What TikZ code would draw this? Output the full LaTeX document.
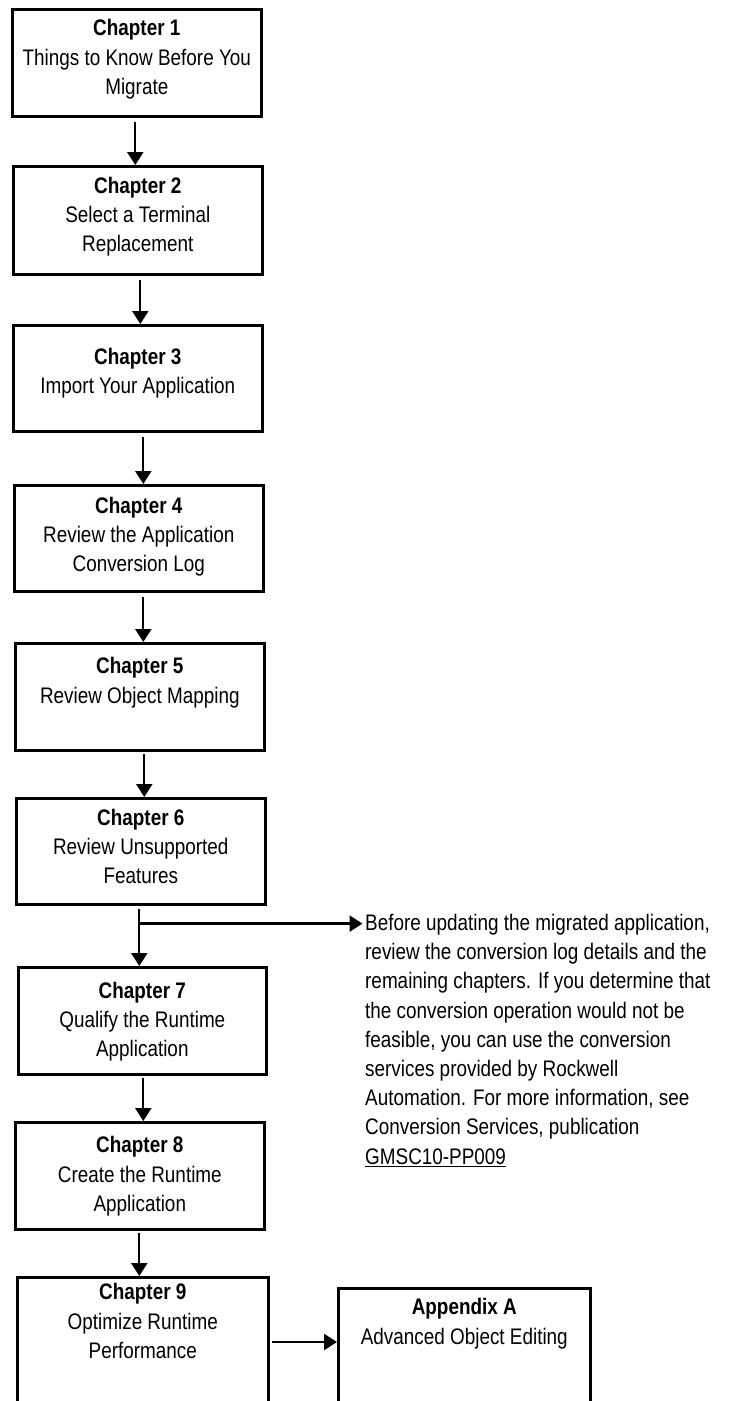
\documentclass[tikz,border=0pt]{standalone}
\usepackage{fontspec}
\setmainfont[FakeStretch=0.84]{Liberation Sans}
\usetikzlibrary{arrows.meta,calc}
\begin{document}
\begin{tikzpicture}[x=1pt,y=-1pt,
  box/.style={draw, line width=2.6pt, rectangle, inner sep=0pt, anchor=north west},
  txt/.style={align=center, inner sep=0pt, anchor=north, font=\fontsize{22.5}{29.3}\selectfont},
  note/.style={align=left, inner sep=0pt, anchor=north west, font=\fontsize{22.5}{29.2}\selectfont},
  arr/.style={line width=2.3pt, -{Triangle[width=16pt,length=13pt]}}
]
\fill[white] (0,0) rectangle (729,1401);
\useasboundingbox (0,0) rectangle (729,1401);
\clip (0,0) rectangle (729,1401);

% boxes
\node[box, minimum width=249pt, minimum height=107pt] (c1) at (11,8) {};
\node[box, minimum width=249pt, minimum height=108pt] (c2) at (12,165) {};
\node[box, minimum width=249pt, minimum height=106pt] (c3) at (12,324) {};
\node[box, minimum width=249pt, minimum height=106pt] (c4) at (13,484) {};
\node[box, minimum width=249pt, minimum height=107pt] (c5) at (14,642) {};
\node[box, minimum width=249pt, minimum height=106pt] (c6) at (15,797) {};
\node[box, minimum width=248pt, minimum height=107pt] (c7) at (17,966) {};
\node[box, minimum width=249pt, minimum height=107pt] (c8) at (14,1121) {};
\node[box, minimum width=251pt, minimum height=140pt] (c9) at (16,1276) {};
\node[box, minimum width=252pt, minimum height=130pt] (cA) at (337,1287) {};

% texts
\node[txt] (t1) at ($(c1.north)+(0,11.3)$) {\textbf{Chapter 1}\\Things to Know Before You\\Migrate};
\node[txt] (t2) at ($(c2.north)+(0,11.6)$) {\textbf{Chapter 2}\\Select a Terminal\\Replacement};
\node[txt] (t3) at ($(c3.north)+(0,23.6)$) {\textbf{Chapter 3}\\Import Your Application};
\node[txt] (t4) at ($(c4.north)+(0,12.6)$) {\textbf{Chapter 4}\\Review the Application\\Conversion Log};
\node[txt] (t5) at ($(c5.north)+(0,15.2)$) {\textbf{Chapter 5}\\Review Object Mapping};
\node[txt] (t6) at ($(c6.north)+(0,11.6)$) {\textbf{Chapter 6}\\Review Unsupported\\Features};
\node[txt] (t7) at ($(c7.north)+(0,15.6)$) {\textbf{Chapter 7}\\Qualify the Runtime\\Application};
\node[txt] (t8) at ($(c8.north)+(0,15.2)$) {\textbf{Chapter 8}\\Create the Runtime\\Application};
\node[txt] (t9) at ($(c9.north)+(0,7.4)$) {\textbf{Chapter 9}\\Optimize Runtime\\Performance};
\node[txt] (tA) at ($(cA.north)+(0,11.4)$) {\textbf{Appendix A}\\Advanced Object Editing};

\node[note] (note) at (365,914) {Before updating the migrated application,\\review the conversion log details and the\\remaining chapters. If you determine that\\the conversion operation would not be\\feasible, you can use the conversion\\services provided by Rockwell\\Automation. For more information, see\\Conversion Services, publication\\\underline{GMSC10-PP009}};

% connectors
\coordinate (a1) at ([xshift=-1.5pt]c1.south);
\draw[arr, shorten <=4pt] (a1) -- (a1 |- c2.north);
\coordinate (a2) at ([xshift=2.5pt]c2.south);
\draw[arr, shorten <=4pt] (a2) -- (a2 |- c3.north);
\coordinate (a3) at ([xshift=5.5pt]c3.south);
\draw[arr, shorten <=4pt] (a3) -- (a3 |- c4.north);
\coordinate (a4) at ([xshift=4.5pt]c4.south);
\draw[arr, shorten <=4pt] (a4) -- (a4 |- c5.north);
\coordinate (a5) at ([xshift=4.5pt]c5.south);
\draw[arr, shorten <=2pt] (a5) -- (a5 |- c6.north);
\coordinate (a6) at ([xshift=-1.5pt]c6.south);
\draw[arr, shorten <=3pt] (a6) -- (a6 |- c7.north);
\coordinate (br) at ([yshift=-18pt]a6);
\draw[arr, shorten >=2.5pt] (br) -- (br -| note.west);
\coordinate (a7) at ([xshift=1pt]c7.south);
\draw[arr, shorten <=2pt] (a7) -- (a7 |- c8.north);
\coordinate (a8) at ([xshift=-0.5pt]c8.south);
\draw[arr, shorten <=2pt] (a8) -- (a8 |- c9.north);
\coordinate (a9) at ([yshift=-66pt]c9.north east);
\draw[arr, shorten <=2.5pt] (a9) -- (a9 -| cA.west);
\end{tikzpicture}
\end{document}
